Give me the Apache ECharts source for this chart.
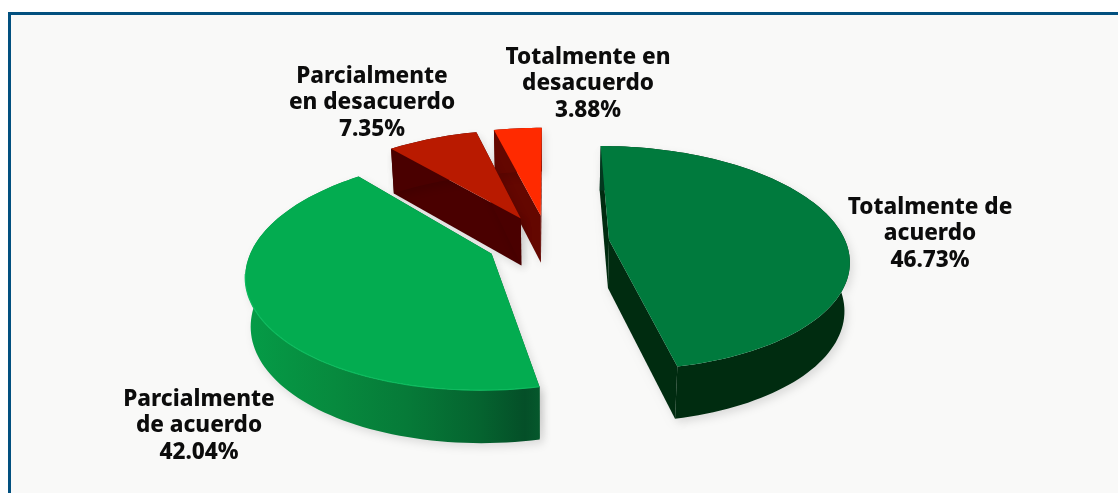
<!DOCTYPE html>
<html><head><meta charset="utf-8">
<style>html,body{margin:0;padding:0;background:#fff}#c{width:1118px;height:493px}</style>
<script src="https://cdn.jsdelivr.net/npm/echarts@6/dist/echarts.min.js"></script>
</head><body><div id="c"></div>
<script>
var categories = ['Totalmente de\nacuerdo', 'Parcialmente\nde acuerdo', 'Parcialmente\nen desacuerdo', 'Totalmente en\ndesacuerdo'];
var values = [46.73, 42.04, 7.35, 3.88];
var topColors = ['#007a3d', '#03ac50', '#b91a00', '#ff2a00'];
var wallColors = ['#002c10', '#05632f', '#4a0000', '#640700'];
var labelCenters = [[930, 194], [199, 386], [372, 63], [588, 44]];
var sliceNudgeY = [0, -2, 0, 0];

var CX = 548, CY = 243, RX = 237, RY = 110, PERSP = 0.16, EXPLODE = 0.26, DEPTH = 48, CONV = 0.982, LINE_H = 26.5;
var total = values.reduce(function (a, b) { return a + b; }, 0);
var starts = [];
values.reduce(function (acc, v, i) { starts[i] = acc; return acc + v; }, 0);

function project(X, Z, low, dy) {
  var s = 1 / (1 + PERSP * Z);
  var x = CX + X * RX * s, y = CY + dy - Z * RY * s;
  if (low) { x = CX + (x - CX) * CONV; y += DEPTH * Math.sqrt(s); }
  return [x, y];
}
function rad(v) { return v / total * Math.PI * 2; }

function renderItem(params, api) {
  var i = params.dataIndex, v = api.value(0), dy = sliceNudgeY[i];
  var a0 = rad(starts[i]), a1 = rad(starts[i] + v), mid = (a0 + a1) / 2;
  var ox = EXPLODE * Math.sin(mid), oz = EXPLODE * Math.cos(mid);
  var rimTop = [], rimLow = [], n = Math.max(6, Math.ceil((a1 - a0) / 0.03));
  for (var k = 0; k <= n; k++) {
    var t = a0 + (a1 - a0) * k / n;
    var X = ox + Math.sin(t), Z = oz + Math.cos(t);
    rimTop.push(project(X, Z, false, dy));
    rimLow.push(project(X, Z, true, dy));
  }
  var apexT = project(ox, oz, false, dy), apexL = project(ox, oz, true, dy);
  var base = 100 - i * 10;
  var shadow = { shadowBlur: 8, shadowColor: 'rgba(0,0,0,0.12)', shadowOffsetX: 3, shadowOffsetY: 4 };
  function wall(pts, fill, z) {
    return { type: 'polygon', z2: base + z, shape: { points: pts },
      style: Object.assign({ fill: fill, stroke: null }, shadow), silent: true };
  }
  var rimFill = wallColors[i];
  if (i === 1) {
    rimFill = new echarts.graphic.LinearGradient(0, 0, 1, 0, [
      { offset: 0, color: '#059c47' }, { offset: 0.3, color: '#078a3e' },
      { offset: 0.55, color: '#067a38' }, { offset: 0.8, color: '#05632f' },
      { offset: 0.95, color: '#044f28' }, { offset: 1, color: '#05582c' }]);
  } else if (i === 0) {
    rimFill = new echarts.graphic.LinearGradient(0, 0, 1, 0, [
      { offset: 0, color: '#03381f' }, { offset: 0.11, color: '#03381f' },
      { offset: 0.13, color: '#002c10' }, { offset: 1, color: '#002c10' }]);
  }
  var children = [
    wall([apexT, rimTop[0], rimLow[0], apexL], wallColors[i], 0),
    wall([apexT, rimTop[n], rimLow[n], apexL], wallColors[i], 1),
    wall(rimTop.concat(rimLow.slice().reverse()), rimFill, 2),
    { type: 'polygon', z2: base + 3, silent: true, shape: { points: [apexT].concat(rimTop) },
      style: { fill: topColors[i], stroke: null } }
  ];
  if (i === 1) {
    children.push({ type: 'polyline', z2: base + 4, silent: true,
      shape: { points: rimTop.slice(0, Math.floor(n * 0.62)) },
      style: { stroke: '#0dbb5e', lineWidth: 1.2, fill: null } });
  }
  var lines = api.value(2).split('\n').concat([api.value(0).toFixed(2) + '%']);
  children.push({ type: 'text', z2: 200, silent: true,
    x: labelCenters[i][0], y: labelCenters[i][1],
    style: { text: lines.join('\n'), fill: '#0c0c0c', align: 'center', verticalAlign: 'top',
      font: '800 22.5px "Noto Sans"', lineHeight: LINE_H } });
  return { type: 'group', children: children };
}

var chart = echarts.init(document.getElementById('c'), null, { renderer: 'canvas' });
chart.setOption({
  animation: false,
  backgroundColor: '#ffffff',
  graphic: [{ type: 'rect', z: -10, silent: true,
    shape: { x: 9.5, y: 13.5, width: 1300, height: 700 },
    style: { fill: '#f9f9f8', stroke: '#02507f', lineWidth: 3 } }],
  series: [{
    type: 'custom', coordinateSystem: 'none', renderItem: renderItem, clip: false,
    encode: { value: 0 },
    data: values.map(function (v, i) { return [v, i, categories[i]]; }),
    dimensions: [{ name: 'v', type: 'number' }, { name: 'i', type: 'number' }, { name: 'label', type: 'ordinal' }]
  }]
});
</script></body></html>
